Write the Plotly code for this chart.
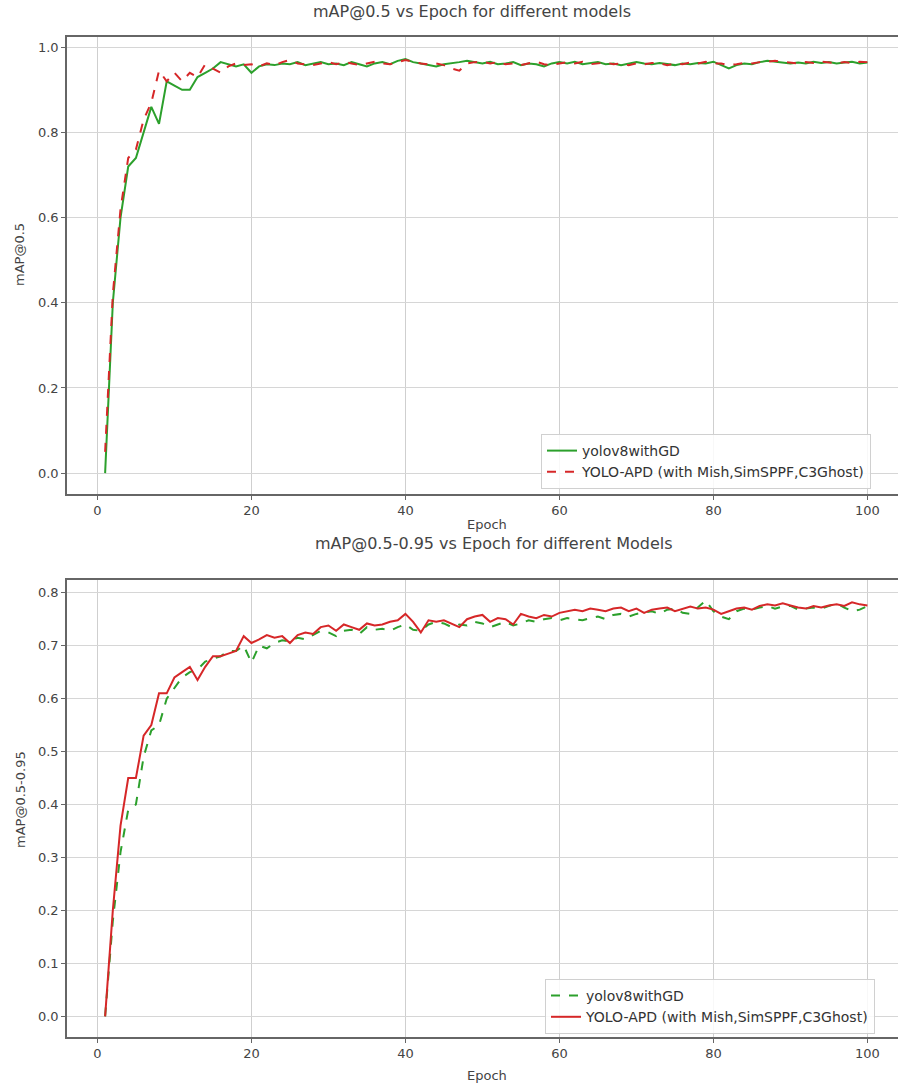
import plotly.graph_objects as go

epochs = list(range(1, 101))

map50_yolov8 = [
    0.00, 0.40, 0.60, 0.72, 0.74, 0.80, 0.86, 0.82, 0.92, 0.91, 0.90, 0.90, 0.93, 0.94, 0.95, 0.965,
    0.96, 0.955, 0.96, 0.94, 0.955, 0.96, 0.958, 0.962, 0.960, 0.965, 0.958, 0.962, 0.965, 0.960,
    0.962, 0.958, 0.965, 0.960, 0.955, 0.962, 0.965, 0.960, 0.968, 0.972,
    0.965, 0.962, 0.958, 0.955, 0.960, 0.962, 0.965, 0.968, 0.965, 0.962,
    0.966, 0.960, 0.962, 0.965, 0.958, 0.962, 0.960, 0.955, 0.962, 0.965,
    0.962, 0.966, 0.960, 0.963, 0.965, 0.960, 0.962, 0.958, 0.962, 0.965,
    0.962, 0.960, 0.963, 0.960, 0.958, 0.962, 0.960, 0.963, 0.962, 0.966,
    0.958, 0.950, 0.958, 0.962, 0.960, 0.965, 0.968, 0.966, 0.965, 0.962,
    0.964, 0.962, 0.966, 0.963, 0.965, 0.962, 0.964, 0.966, 0.962, 0.964,
]
map50_apd = [
    0.05, 0.42, 0.62, 0.74, 0.76, 0.83, 0.87, 0.945, 0.92, 0.94, 0.92, 0.94, 0.93, 0.96, 0.95, 0.94,
    0.955, 0.962, 0.958, 0.960, 0.955, 0.962, 0.958, 0.965, 0.970, 0.962, 0.960, 0.958, 0.962, 0.965,
    0.960, 0.965, 0.962, 0.958, 0.962, 0.966, 0.962, 0.960, 0.965, 0.970,
    0.966, 0.962, 0.960, 0.962, 0.958, 0.950, 0.945, 0.962, 0.965, 0.966,
    0.962, 0.965, 0.960, 0.962, 0.958, 0.962, 0.966, 0.960, 0.958, 0.962,
    0.965, 0.962, 0.966, 0.960, 0.962, 0.964, 0.960, 0.962, 0.958, 0.962,
    0.960, 0.963, 0.962, 0.958, 0.962, 0.960, 0.964, 0.962, 0.966, 0.962,
    0.962, 0.958, 0.960, 0.963, 0.962, 0.965, 0.966, 0.968, 0.966, 0.964,
    0.962, 0.965, 0.963, 0.966, 0.964, 0.962, 0.965, 0.963, 0.966, 0.965,
]
map5095_apd = [
    0.00, 0.20, 0.36, 0.45, 0.45, 0.53, 0.55, 0.61, 0.61, 0.64, 0.65, 0.66, 0.635, 0.66, 0.68, 0.68, 0.685, 0.69, 0.718, 0.705,
    0.712, 0.72, 0.715, 0.718, 0.705, 0.72, 0.725, 0.722, 0.735, 0.738, 0.728, 0.740, 0.735, 0.730, 0.742, 0.738, 0.740, 0.745, 0.748, 0.760,
    0.745, 0.725, 0.748, 0.745, 0.748, 0.742, 0.735, 0.750, 0.755, 0.758, 0.745, 0.752, 0.750, 0.740, 0.760, 0.755, 0.752, 0.758, 0.755, 0.762,
    0.765, 0.768, 0.765, 0.770, 0.768, 0.765, 0.770, 0.772, 0.765, 0.770, 0.762, 0.768, 0.770, 0.772, 0.765, 0.770, 0.774, 0.770, 0.772, 0.768,
    0.760, 0.765, 0.770, 0.772, 0.768, 0.775, 0.778, 0.776, 0.780, 0.776, 0.772, 0.770, 0.775, 0.772, 0.776, 0.778, 0.775, 0.782, 0.778, 0.776,
]
map5095_yolov8 = [
    0.00, 0.18, 0.31, 0.39, 0.40, 0.49, 0.54, 0.55, 0.60, 0.62, 0.64, 0.65, 0.655, 0.67, 0.675, 0.68, 0.69, 0.69, 0.70, 0.668,
    0.700, 0.695, 0.705, 0.710, 0.708, 0.715, 0.712, 0.720, 0.728, 0.725, 0.718, 0.728, 0.730, 0.722, 0.735, 0.730, 0.732, 0.728, 0.735, 0.740,
    0.730, 0.728, 0.740, 0.745, 0.742, 0.735, 0.740, 0.738, 0.745, 0.742, 0.735, 0.740, 0.745, 0.738, 0.742, 0.748, 0.745, 0.750, 0.752, 0.748,
    0.752, 0.750, 0.748, 0.752, 0.755, 0.750, 0.758, 0.760, 0.755, 0.760, 0.762, 0.765, 0.760, 0.768, 0.770, 0.762, 0.760, 0.772, 0.785, 0.765,
    0.755, 0.750, 0.765, 0.770, 0.768, 0.772, 0.775, 0.770, 0.774, 0.775, 0.768, 0.770, 0.772, 0.770, 0.775, 0.780, 0.772, 0.765, 0.768, 0.775,
]

name_v8 = "yolov8withGD"
name_apd = "YOLO-APD (with Mish,SimSPPF,C3Ghost)"
top_ticks = [0.0, 0.2, 0.4, 0.6, 0.8, 1.0]
bot_ticks = [0.0, 0.1, 0.2, 0.3, 0.4, 0.5, 0.6, 0.7, 0.8]
x_ticks = [0, 20, 40, 60, 80, 100]

GREEN = "#2ca02c"
RED = "#d62728"
W, H = 898, 1084
FONT = "DejaVu Sans"
TXT = "#444444"

fig = go.Figure()
fig.add_trace(go.Scatter(x=epochs, y=map50_yolov8, mode="lines", name=name_v8,
                         line=dict(color=GREEN, width=2), xaxis="x", yaxis="y", legend="legend"))
fig.add_trace(go.Scatter(x=epochs, y=map50_apd, mode="lines", name=name_apd,
                         line=dict(color=RED, width=2, dash="dash"), xaxis="x", yaxis="y", legend="legend"))
fig.add_trace(go.Scatter(x=epochs, y=map5095_yolov8, mode="lines", name=name_v8,
                         line=dict(color=GREEN, width=2, dash="dash"), xaxis="x2", yaxis="y2", legend="legend2"))
fig.add_trace(go.Scatter(x=epochs, y=map5095_apd, mode="lines", name=name_apd,
                         line=dict(color=RED, width=2), xaxis="x2", yaxis="y2", legend="legend2"))

def py(p):
    return 1 - p / H

xdom = [67 / W, 1.0]
common_x = dict(range=[-3.95, 103.97], tickvals=x_ticks, showgrid=True, gridcolor="#cfcfcf", gridwidth=1,
                showline=True, linecolor="#666666", linewidth=1.5, mirror=True, ticks="outside",
                ticklen=4, tickcolor="#666666", zeroline=False,
                tickfont=dict(family=FONT, size=13, color=TXT), domain=xdom)
common_y = dict(showgrid=True, gridcolor="#d6d6d6", gridwidth=1, showline=True, linecolor="#666666",
                linewidth=1.5, mirror=False, ticks="outside", ticklen=4, tickcolor="#666666",
                zeroline=False, tickfont=dict(family=FONT, size=13, color=TXT))

leg_common = dict(xanchor="left", yanchor="top", bgcolor="rgba(255,255,255,0.85)",
                  bordercolor="#d0d0d0", borderwidth=1, font=dict(family=FONT, size=14, color="#333"),
                  tracegroupgap=0, itemwidth=30)

fig.update_layout(
    width=W, height=H, margin=dict(l=0, r=0, t=0, b=0),
    paper_bgcolor="white", plot_bgcolor="white",
    font=dict(family=FONT, color=TXT),
    xaxis=dict(**common_x, anchor="y"),
    yaxis=dict(**common_y, range=[-0.049, 1.024], tickvals=top_ticks,
               ticktext=[f"{v:.1f}" for v in top_ticks], domain=[py(494), py(37)], anchor="x"),
    xaxis2=dict(**common_x, anchor="y2"),
    yaxis2=dict(**common_y, range=[-0.039, 0.824], tickvals=bot_ticks,
                ticktext=[f"{v:.1f}" for v in bot_ticks], domain=[py(1037), py(580)], anchor="x2"),
    legend=dict(x=541 / W, y=py(434), **leg_common),
    legend2=dict(x=545 / W, y=py(979), **leg_common),
    showlegend=True,
)

ann = [
    ("mAP@0.5 vs Epoch for different models", 472, 12, 0, 16),
    ("mAP@0.5-0.95 vs Epoch for different Models", 494, 543, 0, 16),
    ("Epoch", 487, 524, 0, 13),
    ("Epoch", 487, 1075, 0, 13),
    ("mAP@0.5", 20, 255, -90, 13),
    ("mAP@0.5-0.95", 20, 800, -90, 13),
]
for text, x, y, rot, size in ann:
    fig.add_annotation(text=text, x=x / W, y=py(y), xref="paper", yref="paper", showarrow=False,
                       xanchor="center", yanchor="middle", textangle=rot,
                       font=dict(family=FONT, size=size, color=TXT))

fig.write_html("out.html")
